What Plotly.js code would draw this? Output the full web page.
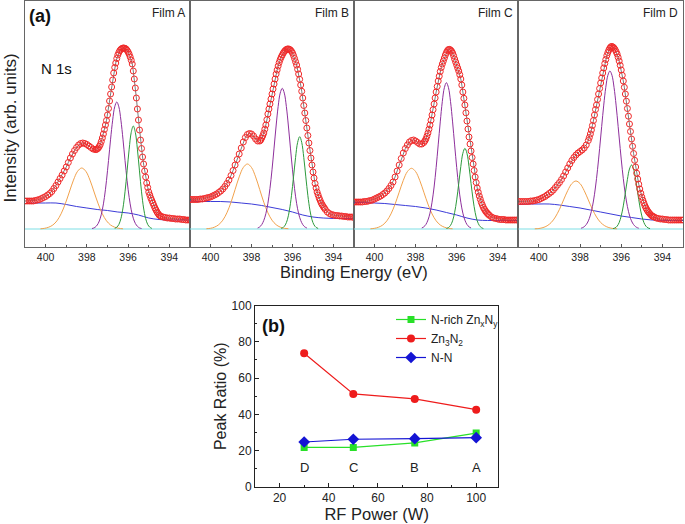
<!DOCTYPE html>
<html><head><meta charset="utf-8">
<script src="https://cdn.plot.ly/plotly-3.0.1.min.js"></script>
<style>html,body{margin:0;padding:0;background:#fff}#chart{width:685px;height:524px}</style>
</head><body><div id="chart"></div>
<script>
// ---------- (a) N 1s spectra ----------
const energy = [401.0,400.9,400.8,400.7,400.6,400.5,400.4,400.3,400.2,400.1,
400.0,399.9,399.8,399.7,399.6,399.5,399.4,399.3,399.2,399.1,
399.0,398.9,398.8,398.7,398.6,398.5,398.4,398.3,398.2,398.1,
398.0,397.9,397.8,397.7,397.6,397.55,397.5,397.45,397.4,397.35,
397.3,397.25,397.2,397.15,397.1,397.05,397.0,396.95,396.9,396.85,
396.8,396.75,396.7,396.65,396.6,396.55,396.5,396.45,396.4,396.35,
396.3,396.25,396.2,396.15,396.1,396.05,396.0,395.95,395.9,395.85,
395.8,395.75,395.7,395.65,395.6,395.55,395.5,395.45,395.4,395.35,
395.3,395.25,395.2,395.15,395.1,395.05,395.0,394.95,394.9,394.85,
394.8,394.75,394.7,394.65,394.6,394.55,394.5,394.45,394.4,394.3,
394.2,394.1,394.0,393.9,393.8,393.7,393.6,393.5,393.4,393.3,
393.2,393.1,393.0];

const measuredA = [28,28,28,28,28,28.5,29,29.5,30.5,31.5,
32.5,34,35.5,37.5,40.5,43.5,47,50.5,54,58,
62,66.5,71,75,78.5,81.5,84,85.5,86,85.5,
84.5,83,81.5,80,79.5,79.5,80,81,82.5,84.5,
87.5,91,95,99.5,104,108.5,114,120.5,128,135,
142,149,156,161.5,166,170.5,174,176.5,178.5,179.7,
180.5,181,181,180.7,180,178.7,177,174.8,172,168.8,
165,158,150,141,131,120,109,99,89,80.5,
72,65,58,52,46,41.5,37,34,31,28.5,
26,23.5,21,19,17,15.5,14,13.2,12.5,12,
11.5,11,11,10.5,10.5,10,10,10,9.5,9.5,
9,9,9];

const measuredB = [29.5,29.5,29.5,29.5,29.5,30,30,30.5,31,31.5,
32,33,34,35,36.5,38,40,42.5,45.5,49,
53.5,58.5,64,69.5,75,81,87,91.5,94.5,95.5,
95,93,90,88,88,89,91,93.3,96,99.8,
104,109.3,115,120,125,130,135,140,145,150,
155,159,163,166.5,169.5,172,174,176,177.5,178.6,
179.5,180,180,179.7,179,177.7,176,173.5,170.5,167.3,
164,159.7,155,149.7,144,137.7,131,123.5,116,108.5,
101,93.5,86,78.5,71,64,57,51,45.5,41,
37,34,31,28.5,26,24.2,22.5,21,19.5,17,
15.5,14.5,14,13.5,13.5,13,13,12.5,12.5,12,
12,12,11.5];

const measuredC = [27,27,27,27,27,27.5,27.5,28,28.5,29,
30,31,32,33,34.5,36,38,40.5,43.5,47,
52,58,64,70.5,76,80.5,84,87,88.5,89,
88,86.5,85,85,86.5,88,90,92.8,96,99.8,
104,108.8,114,119.3,125,131,137,142.5,148,152.8,
157.5,161.5,165,168,171,174,176.5,178.3,179.5,179.6,
179,177.8,176,173.3,170,167,164,161,158,154.3,
150,144,137,130.7,124,116.2,108,100,92,85,
78,71.5,65,58.5,52,46.5,41,36.8,33,29.7,
26.5,24,21.5,19.7,18,16.7,15.5,14.5,13.5,12,
11,10.5,10,9.5,9.5,9.5,9,9,9,9,
9,9,9];

const measuredD = [27.5,27.5,27.5,27.5,27.5,27.5,28,28,28.5,29,
29.5,30.5,31.5,32.5,34,35.5,37,39,41.5,44,
46.5,49.5,53,57,61,65,68.5,71.5,74,76,
77.5,79,81,84,88.5,91.5,95,99,103.5,108.5,
114,119.5,124,129.5,135,140.5,146,151,156,161,
165.5,169.5,173.5,176.5,179,181,182.3,182.5,182,181,
179.5,177.4,175,171.7,168,163.7,159,153.7,148,141.7,
135,127.8,120.5,112.8,105,97.5,90,82.7,75.5,68.7,
62,55.8,50,44.8,40,35.8,32,28.8,26,23.3,
21,19.2,17.5,16.2,15,13.9,13,12.5,12,11,
10.5,10,10,9.5,9.5,9,9,9,9,9,
9,9,9];

// Shirley-type background
const bgEnergy = [401,400.5,400,399.5,399,398.5,398,397.5,397,396.5,396,395.5,395,394.5,394,393.5,393];
const backgroundA = [25.5,26,26,26,24.5,22.5,21,19.5,18.5,17,16,14,11,9.5,9,9,9];
const backgroundB = [28,27.5,27.5,27.5,27,26,25,23.5,21.5,19.5,17,14,12,11,10.5,10.5,10.5];
const backgroundC = [26.5,26.5,26,25.5,24.5,23.5,22.5,21,19,16.5,14,11,9,8.5,8.5,8.5,8.5];
const backgroundD = [24.5,25,25,25,24,22.5,21,19,17,15,13,11.5,10,9,8.5,8.5,8.5];

// N-N component (orange)
const nnEnergyA = [400.25,400.05,399.85,399.65,399.45,399.25,399.05,398.85,398.65,398.45,398.25,398.05,397.85,397.65,397.45,397.25,397.05,396.85,396.65,396.45,396.25];
const nnEnergy = [400.2,400.0,399.8,399.6,399.4,399.2,399.0,398.8,398.6,398.4,398.2,398.0,397.8,397.6,397.4,397.2,397.0,396.8,396.6,396.4,396.2];
const nnA = [0.2,0.7,1.8,4.0,8.2,15.2,25.1,37.0,48.9,57.7,61,57.7,48.9,37.0,25.1,15.2,8.2,4.0,1.8,0.7,0.2];
const nnB = [0.3,0.7,1.9,4.3,8.8,16.2,26.7,39.5,52.1,61.5,65,61.5,52.1,39.5,26.7,16.2,8.8,4.3,1.9,0.7,0.3];
const nnC = [0.2,0.7,1.8,4.0,8.2,15.1,24.9,36.8,48.6,57.4,60.7,57.4,48.6,36.8,24.9,15.1,8.2,4.0,1.8,0.7,0.2];
const nnD = [0.2,0.5,1.4,3.2,6.5,12.0,19.7,29.1,38.4,45.4,48,45.4,38.4,29.1,19.7,12.0,6.5,3.2,1.4,0.5,0.2];

// Zn3N2 component (purple)
const znEnergyA = [397.75,397.65,397.55,397.45,397.35,397.25,397.15,397.05,396.95,396.85,396.75,396.65,396.55,396.45,396.35,396.25,396.15,396.05,395.95,395.85,395.75,395.65,395.55,395.45,395.35];
const znEnergyBC = [397.7,397.6,397.5,397.4,397.3,397.2,397.1,397.0,396.9,396.8,396.7,396.6,396.5,396.4,396.3,396.2,396.1,396.0,395.9,395.8,395.7,395.6,395.5,395.4,395.3];
const znEnergyD = [397.95,397.85,397.75,397.65,397.55,397.45,397.35,397.25,397.15,397.05,396.95,396.85,396.75,396.65,396.55,396.45,396.35,396.25,396.15,396.05,395.95,395.85,395.75,395.65,395.55,395.45,395.35,395.25,395.15];
const znA = [0.5,1.1,2.7,5.6,10.8,19.2,31.6,48.4,68.5,89.8,108.8,122.2,127,122.2,108.8,89.8,68.5,48.4,31.6,19.2,10.8,5.6,2.7,1.1,0.5];
const znB = [1.0,2.1,4.4,8.6,15.3,25.7,40.4,59.2,80.9,103.0,122.5,135.9,140.7,135.9,122.5,103.0,80.9,59.2,40.4,25.7,15.3,8.6,4.4,2.1,1.0];
const znC = [1.0,2.2,4.5,8.9,15.9,26.8,42.0,61.6,84.1,107.1,127.4,141.3,146.3,141.3,127.4,107.1,84.1,61.6,42.0,26.8,15.9,8.9,4.5,2.2,1.0];
const znD = [0.8,1.6,3.2,6.0,10.6,17.7,28.0,42.0,59.7,80.4,102.5,123.9,141.7,153.7,158,153.7,141.7,123.9,102.5,80.4,59.7,42.0,28.0,17.7,10.6,6.0,3.2,1.6,0.8];

// N-rich ZnxNy component (green)
const nrEnergyA = [396.65,396.55,396.45,396.35,396.25,396.15,396.05,395.95,395.85,395.75,395.65,395.55,395.45,395.35,395.25,395.15,395.05,394.95,394.85];
const nrEnergyB = [396.55,396.45,396.35,396.25,396.15,396.05,395.95,395.85,395.75,395.65,395.55,395.45,395.35,395.25,395.15,395.05,394.95,394.85,394.75];
const nrEnergyC = [396.5,396.4,396.3,396.2,396.1,396.0,395.9,395.8,395.7,395.6,395.5,395.4,395.3,395.2,395.1,395.0,394.9,394.8,394.7];
const nrEnergyD = [396.4,396.3,396.2,396.1,396.0,395.9,395.8,395.7,395.6,395.5,395.4,395.3,395.2,395.1,395.0,394.9,394.8,394.7,394.6];
const nrA = [0.6,1.8,4.5,10.4,21.0,37.2,58.1,79.8,96.6,103,96.6,79.8,58.1,37.2,21.0,10.4,4.5,1.8,0.6];
const nrB = [0.6,1.6,4.1,9.3,18.8,33.3,52.1,71.5,86.6,92.3,86.6,71.5,52.1,33.3,18.8,9.3,4.1,1.6,0.6];
const nrC = [0.5,1.4,3.6,8.2,16.5,29.1,45.5,62.5,75.7,80.7,75.7,62.5,45.5,29.1,16.5,8.2,3.6,1.4,0.5];
const nrD = [0.4,1.1,2.8,6.5,13.1,23.1,36.1,49.6,60.0,64,60.0,49.6,36.1,23.1,13.1,6.5,2.8,1.1,0.4];

const baseEnergy = [401, 393];
const baseLevel = [0, 0];
const filmNames = ['Film A', 'Film B', 'Film C', 'Film D'];

// ---------- (b) peak ratio ----------
const rfPower = [30, 50, 75, 100];
const filmLetters = ['D', 'C', 'B', 'A'];
const ratioNRich = [21.8, 21.8, 24.3, 29.7];
const ratioZn3N2 = [73.7, 51.3, 48.5, 42.6];
const ratioNN = [24.8, 26.3, 26.6, 27.2];

// ---------- build ----------
const W = 685, H = 524;
const FONT = 'Liberation Sans, Arial, sans-serif';
const px = v => v / W;
const py = v => 1 - v / H;

const panelData = [
  {meas: measuredA, bg: backgroundA, nnx: nnEnergyA, nn: nnA, znx: znEnergyA, zn: znA, nrx: nrEnergyA, nr: nrA},
  {meas: measuredB, bg: backgroundB, nnx: nnEnergy, nn: nnB, znx: znEnergyBC, zn: znB, nrx: nrEnergyB, nr: nrB},
  {meas: measuredC, bg: backgroundC, nnx: nnEnergy, nn: nnC, znx: znEnergyBC, zn: znC, nrx: nrEnergyC, nr: nrC},
  {meas: measuredD, bg: backgroundD, nnx: nnEnergy, nn: nnD, znx: znEnergyD, zn: znD, nrx: nrEnergyD, nr: nrD}
];
const edges = [25, 190, 354, 518.3, 683];

const traces = [];
const layout = {
  width: W, height: H,
  margin: {l: 0, r: 0, t: 0, b: 0},
  paper_bgcolor: '#fff', plot_bgcolor: 'rgba(0,0,0,0)',
  font: {family: FONT, color: '#222', size: 12},
  showlegend: true,
  annotations: []
};

panelData.forEach((p, i) => {
  const xa = i === 0 ? 'x' : 'x' + (i + 1);
  const ya = i === 0 ? 'y' : 'y' + (i + 1);
  const common = {xaxis: xa, yaxis: ya, showlegend: false, hoverinfo: 'skip'};
  traces.push(Object.assign({x: baseEnergy, y: baseLevel, mode: 'lines', line: {color: '#7fe0e6', width: 1.2}}, common));
  traces.push(Object.assign({x: bgEnergy, y: p.bg, mode: 'lines', line: {color: '#3c3cd8', width: 1, shape: 'spline'}}, common));
  traces.push(Object.assign({x: p.nnx, y: p.nn, mode: 'lines', line: {color: '#f2a24c', width: 1, shape: 'spline'}}, common));
  traces.push(Object.assign({x: p.znx, y: p.zn, mode: 'lines', line: {color: '#8e2f9c', width: 1, shape: 'spline'}}, common));
  traces.push(Object.assign({x: p.nrx, y: p.nr, mode: 'lines', line: {color: '#2c9a3c', width: 1, shape: 'spline'}}, common));
  traces.push(Object.assign({x: energy, y: p.meas, mode: 'lines', line: {color: '#444', width: 0.7}}, common));
  traces.push(Object.assign({x: energy, y: p.meas, mode: 'markers',
    marker: {symbol: 'circle-open', size: 6, color: '#f02a2a', line: {width: 1, color: '#f02a2a'}}}, common));

  const axKey = i === 0 ? 'xaxis' : 'xaxis' + (i + 1);
  const ayKey = i === 0 ? 'yaxis' : 'yaxis' + (i + 1);
  layout[axKey] = {
    domain: [px(edges[i]), px(edges[i + 1])], anchor: ya,
    range: [401, 393], autorange: false,
    tickvals: [400, 398, 396, 394], ticks: 'inside', ticklen: 3, tickcolor: '#555',
    minor: {tickvals: [401, 399, 397, 395, 393], ticks: 'inside', ticklen: 2, tickcolor: '#555'},
    showline: true, linecolor: '#666', linewidth: 1, mirror: true,
    showgrid: false, zeroline: false,
    tickfont: {family: FONT, size: 10.5, color: '#222'}
  };
  layout[ayKey] = {
    domain: [py(247), py(1)], anchor: xa,
    range: [-18, 228], autorange: false,
    showticklabels: false, ticks: '',
    showline: true, linecolor: '#666', linewidth: 1, mirror: true,
    showgrid: false, zeroline: false
  };
  layout.annotations.push({xref: xa + ' domain', yref: 'paper', x: 1, y: py(4), xanchor: 'right', yanchor: 'top', xshift: -3,
    text: filmNames[i], showarrow: false, font: {family: FONT, size: 12, color: '#222'}});
});

// panel (b)
traces.push({x: rfPower, y: ratioNRich, xaxis: 'x5', yaxis: 'y5', mode: 'lines+markers', name: 'N-rich Zn<sub>x</sub>N<sub>y</sub>',
  line: {color: '#28e028', width: 1.2}, marker: {symbol: 'square', size: 7, color: '#28e028'}});
traces.push({x: rfPower, y: ratioZn3N2, xaxis: 'x5', yaxis: 'y5', mode: 'lines+markers', name: 'Zn<sub>3</sub>N<sub>2</sub>',
  line: {color: '#ee1c1c', width: 1.2}, marker: {symbol: 'circle', size: 8, color: '#ee1c1c'}});
traces.push({x: rfPower, y: ratioNN, xaxis: 'x5', yaxis: 'y5', mode: 'lines+markers', name: 'N-N',
  line: {color: '#1414d4', width: 1.2}, marker: {symbol: 'diamond', size: 9, color: '#1414d4'}});

layout.xaxis5 = {
  domain: [px(255), px(498.3)], anchor: 'y5', range: [10, 109], autorange: false,
  tickvals: [20, 40, 60, 80, 100], ticks: 'inside', ticklen: 4, tickcolor: '#222',
  minor: {tickvals: [10, 30, 50, 70, 90], ticks: 'inside', ticklen: 2, tickcolor: '#222'},
  showline: true, linecolor: '#222', linewidth: 1, mirror: true, showgrid: false, zeroline: false,
  tickfont: {family: FONT, size: 12, color: '#222'},
  title: {text: 'RF Power (W)', font: {family: FONT, size: 16.5, color: '#222'}, standoff: 2}
};
layout.yaxis5 = {
  domain: [py(487), py(305.5)], anchor: 'x5', range: [0, 100], autorange: false,
  tickvals: [0, 20, 40, 60, 80, 100], ticks: 'inside', ticklen: 4, tickcolor: '#222',
  minor: {tickvals: [10, 30, 50, 70, 90], ticks: 'inside', ticklen: 2, tickcolor: '#222'},
  showline: true, linecolor: '#222', linewidth: 1, mirror: true, showgrid: false, zeroline: false,
  tickfont: {family: FONT, size: 12, color: '#222'},
  title: {text: 'Peak Ratio (%)', font: {family: FONT, size: 16, color: '#222'}, standoff: 0}
};
layout.legend = {x: px(391), y: py(305), xanchor: 'left', yanchor: 'top', bgcolor: 'rgba(0,0,0,0)',
  font: {family: FONT, size: 12, color: '#222'}, tracegroupgap: 0};

rfPower.forEach((p, i) => {
  layout.annotations.push({xref: 'x5', yref: 'y5', x: p, y: 11, text: filmLetters[i], showarrow: false,
    font: {family: FONT, size: 13, color: '#222'}});
});

layout.annotations.push(
  {xref: 'paper', yref: 'paper', x: px(27), y: py(16), xanchor: 'left', yanchor: 'middle', text: '<b>(a)</b>', showarrow: false, font: {family: FONT, size: 18, color: '#111'}},
  {xref: 'paper', yref: 'paper', x: px(56), y: py(69), xanchor: 'center', yanchor: 'middle', text: 'N 1s', showarrow: false, font: {family: FONT, size: 15, color: '#111'}},
  {xref: 'paper', yref: 'paper', x: px(10.5), y: py(128), xanchor: 'center', yanchor: 'middle', textangle: -90, text: 'Intensity (arb. units)', showarrow: false, font: {family: FONT, size: 17, color: '#222'}},
  {xref: 'paper', yref: 'paper', x: px(354.5), y: py(272), xanchor: 'center', yanchor: 'middle', text: 'Binding Energy (eV)', showarrow: false, font: {family: FONT, size: 16.5, color: '#222'}},
  {xref: 'paper', yref: 'paper', x: px(273), y: py(326), xanchor: 'center', yanchor: 'middle', text: '<b>(b)</b>', showarrow: false, font: {family: FONT, size: 18, color: '#111'}}
);

Plotly.newPlot('chart', traces, layout, {displayModeBar: false, staticPlot: true}).then(() => {
  const root = document.getElementById('chart');
  // drop empty placeholder texts of untitled axes and give every text node an explicit size
  root.querySelectorAll('text').forEach(t => { if (!t.textContent.trim()) t.remove(); });
  root.querySelectorAll('text, tspan').forEach(t => {
    if (!t.style.fontSize) t.style.fontSize = getComputedStyle(t).fontSize;
  });
});
</script>
</body></html>
